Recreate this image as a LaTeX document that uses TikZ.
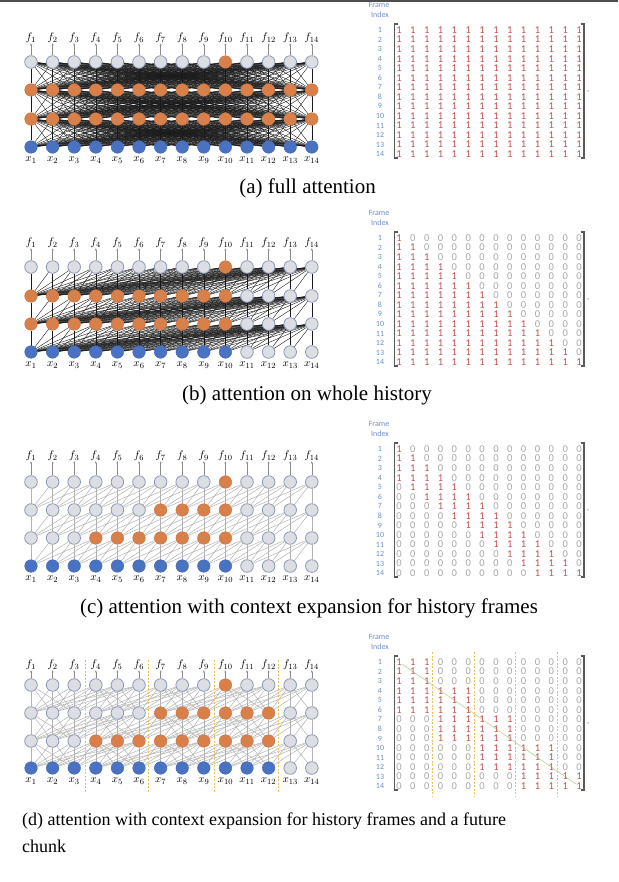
\documentclass[tikz,border=0pt]{standalone}
\usepackage{fontspec}
\setmainfont{Liberation Serif}
\newfontfamily\calib{Carlito}
\usetikzlibrary{arrows.meta, backgrounds}
\definecolor{NodeGray}{HTML}{DCDEE4}
\definecolor{NodeRim}{HTML}{8D99B6}
\definecolor{NodeOrange}{HTML}{D9804A}
\definecolor{NodeBlue}{HTML}{4A72C2}
\definecolor{MaskRed}{HTML}{C0504D}
\definecolor{MaskZero}{HTML}{A8A8A8}
\definecolor{IndexBlue}{HTML}{6F8FC6}
\definecolor{ChunkYellow}{HTML}{E9C25C}
\definecolor{DiagGreen}{HTML}{C4D69E}
\tikzset{
    % neurons
    idle/.style={circle, draw=NodeRim, fill=NodeGray, line width=0.8pt,
        minimum size=12.6pt, inner sep=0pt},
    hot/.style={circle, draw=NodeOrange!90!black, fill=NodeOrange, line width=0.4pt,
        minimum size=12.6pt, inner sep=0pt},
    feed/.style={circle, draw=NodeBlue!90!black, fill=NodeBlue, line width=0.4pt,
        minimum size=12.6pt, inner sep=0pt},
    symb/.style={inner sep=0pt, font=\fontsize{11}{13}\selectfont},
    % connections
    link/.style={line width=0.4pt, draw=black!90},
    softlink/.style={line width=0.5pt, draw=black!30},
    outarrow/.style={-{Latex[length=2.2pt,width=2pt]}, line width=0.5pt, draw=black!45},
    % mask matrices
    one/.style={text=MaskRed, font=\calib\fontsize{10.5}{12}\selectfont, inner sep=0pt},
    zero/.style={text=MaskZero, font=\calib\fontsize{10.5}{12}\selectfont, inner sep=0pt},
    rowidx/.style={text=IndexBlue, font=\calib\fontsize{8}{9}\selectfont, inner sep=0pt},
    bracket/.style={line width=1.6pt, draw=black!65},
    chunkline/.style={dash pattern=on 2pt off 1.5pt, line width=0.8pt, draw=ChunkYellow},
    caption/.style={font=\fontsize{21}{25}\selectfont, inner sep=0pt}
}
% #1 = panel mode, #2 = query frame, #3 = key frame; result in \maskbit
\newcommand{\maskof}[3]{%
    \ifcase#1\or
        \def\maskbit{1}\or
        \pgfmathtruncatemacro\maskbit{#3<=#2}\or
        \pgfmathtruncatemacro\maskbit{and(#3<=#2, #3>=#2-3)}\or
        \pgfmathtruncatemacro\maskbit{and(int((#2-1)/3)-int((#3-1)/3)>=0, int((#2-1)/3)-int((#3-1)/3)<=1)}\fi}

\begin{document}
\begin{tikzpicture}[x=1pt, y=-1pt]
    \useasboundingbox (0,0) rectangle (618,882);
    \fill[black!70] (0,0) rectangle (618,2.5);

    % networks: row 4 = output side, row 1 = input frames
    \foreach \m/\p/\yf/\yt/\yu/\yv/\yw/\yx/\ra/\rb/\sa/\sb/\bh in {
        1/a/38/62/90/119/147/160/1/14/1/14/14,
        2/b/243/267/296/324/352/365/1/10/1/10/10,
        3/c/456/482/510/538/566/579/7/10/4/10/10,
        4/d/665/685/713/741/768/781/7/12/4/12/12}{
        \foreach \i in {1,...,14}{
            \pgfmathsetmacro\xx{31+21.6*(\i-1)}
            \ifnum\i=10 \def\sty{hot}\else\def\sty{idle}\fi
            \node[\sty] (\p-4-\i) at (\xx,\yt) {};
            \def\sty{hot}
            \ifnum\i<\ra\relax\def\sty{idle}\fi
            \ifnum\i>\rb\relax\def\sty{idle}\fi
            \node[\sty] (\p-3-\i) at (\xx,\yu) {};
            \def\sty{hot}
            \ifnum\i<\sa\relax\def\sty{idle}\fi
            \ifnum\i>\sb\relax\def\sty{idle}\fi
            \node[\sty] (\p-2-\i) at (\xx,\yv) {};
            \ifnum\i>\bh\relax\def\sty{idle}\else\def\sty{feed}\fi
            \node[\sty] (\p-1-\i) at (\xx,\yw) {};
            \node[symb] (\p-f\i) at (\xx,\yf) {$f_{\i}$};
            \node[symb] (\p-x\i) at (\xx,\yx) {$x_{\i}$};
            \draw[outarrow] (\p-4-\i) -- (\p-f\i);
        }
        \ifnum\m<3 \def\edgestyle{link}\else\def\edgestyle{softlink}\fi
        \begin{pgfonlayer}{background}
            \foreach \l in {1,2,3}{
                \pgfmathtruncatemacro\lu{\l+1}
                \foreach \i in {1,...,14}{
                    \foreach \j in {1,...,14}{
                        \maskof{\m}{\i}{\j}
                        \ifnum\maskbit=1 \draw[\edgestyle] (\p-\l-\j) -- (\p-\lu-\i);\fi
                    }
                }
            }
        \end{pgfonlayer}
    }

    % mask matrices
    \foreach \m/\p/\ry in {1/a/30, 2/b/238, 3/c/449, 4/d/662}{
        \node[rowidx] (\p-frame) at (379,\ry-25) {Frame};
        \node[rowidx] (\p-index) at (380,\ry-15) {Index};
        \foreach \i in {1,...,14}{
            \pgfmathsetmacro\yy{\ry+9.55*(\i-1)}
            \node[rowidx] (\p-r\i) at (380,\yy) {\i};
            \foreach \j in {1,...,14}{
                \maskof{\m}{\i}{\j}
                \ifnum\maskbit=1 \def\sty{one}\else\def\sty{zero}\fi
                \node[\sty] (\p-m\i-\j) at ({399+13.85*(\j-1)},\yy) {\maskbit};
            }
        }
        \draw[bracket] (398,\ry-6) -| (394.5,\ry+128) -- (398,\ry+128);
        \draw[bracket] (580.5,\ry-6) -| (584,\ry+128) -- (580.5,\ry+128);
        \node[rowidx, text=black!60] (\p-comma) at (588,\ry+62) {,};
    }

    % chunk borders of panel (d)
    \foreach \k/\cx/\mx in {1/85/432.6, 2/148.5/474.2, 3/214/515.8, 4/278/557.3}{
        \draw[chunkline] (\cx,660) -- (\cx,792);
        \draw[chunkline] (\mx,652) -- (\mx,797);
    }
    \begin{pgfonlayer}{background}
        \draw[DiagGreen, line width=0.7pt] (d-m1-1) -- (d-m14-14);
    \end{pgfonlayer}

    \node[caption] (capa) at (307.5,188) {(a) full attention};
    \node[caption] (capb) at (307,395) {(b) attention on whole history};
    \node[caption] (capc) at (309,608) {(c) attention with context expansion for history frames};
    \node[caption, font=\fontsize{18}{27}\selectfont, anchor=north west, align=left] (capd)
        at (22,813) {(d) attention with context expansion for history frames and a future\\chunk};
\end{tikzpicture}
\end{document}
